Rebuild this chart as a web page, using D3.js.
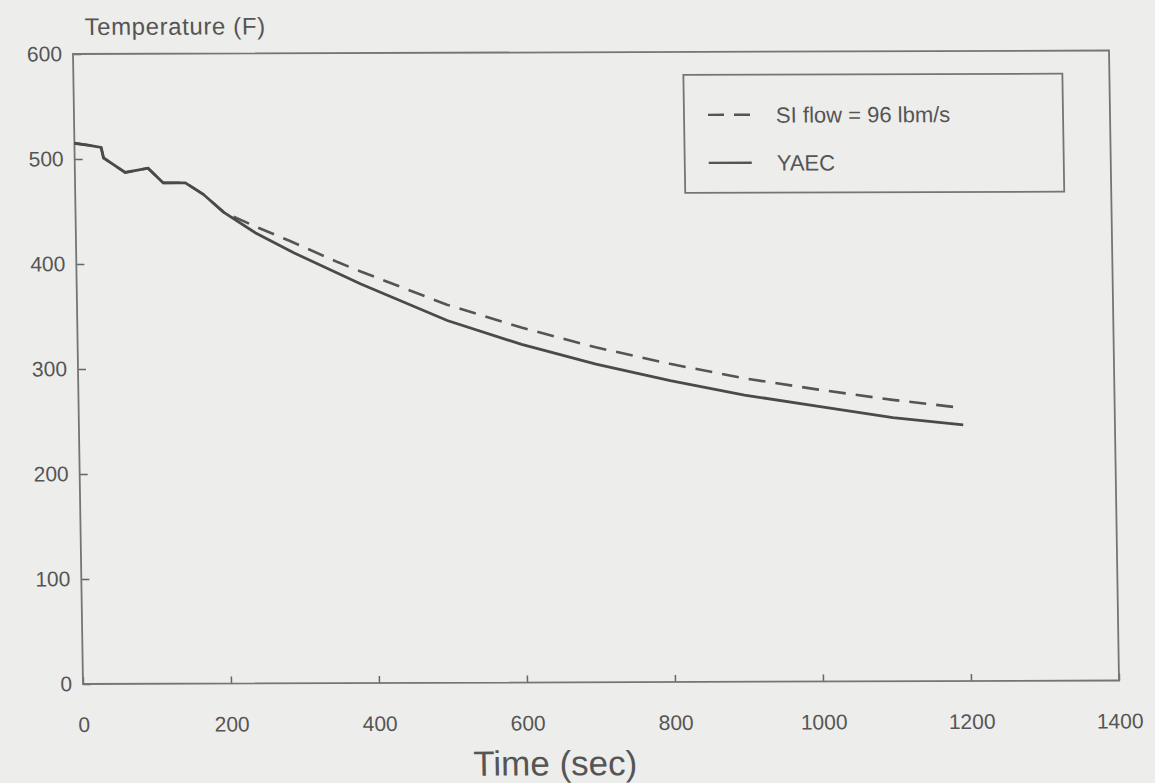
<!DOCTYPE html>
<html>
<head>
<meta charset="utf-8">
<style>
  body { margin: 0; background: #ededeb; }
  svg { display: block; }
  text { font-family: "Liberation Sans", Arial, sans-serif; fill: #555; }
</style>
</head>
<body>
<div id="chart"></div>
<script src="https://d3js.org/d3.v7.min.js"></script>
<script>
// YAEC (solid)
const yaecTime = [0, 20, 36, 39, 68, 99, 119, 149, 173, 200, 243, 294, 384, 500, 600, 700, 800, 900, 1000, 1100, 1195];
const yaecTemp = [515, 513, 511, 501, 487, 491, 477, 477, 466, 449, 429, 410, 380, 345, 322, 303, 287, 273, 262, 251, 244];

// SI flow = 96 lbm/s (dashed)
const siTime = [0, 20, 36, 39, 68, 99, 119, 149, 173, 200, 243, 290, 353, 384, 500, 600, 700, 800, 900, 1000, 1100, 1195];
const siTemp = [515, 513, 511, 501, 487, 491, 477, 477, 466, 449, 435, 421, 401, 392, 360, 338, 319, 303, 289, 278, 268, 260];

const xTicks = [0, 200, 400, 600, 800, 1000, 1200, 1400];
const yTicks = [0, 100, 200, 300, 400, 500, 600];
const legendLabels = ["SI flow = 96 lbm/s", "YAEC"];

const width = 1155, height = 783;
const W = 1036, H = 630;

const svg = d3.select("#chart").append("svg")
  .attr("width", width)
  .attr("height", height);

// the scanned page is slightly skewed
const g = svg.append("g")
  .attr("transform", `matrix(1, ${-3.5 / W}, ${10 / H}, 1, 73, 54)`);

const x = d3.scaleLinear().domain([0, 1400]).range([0, W]);
const y = d3.scaleLinear().domain([0, 600]).range([H, 0]);

// axes
const yAxis = g.append("g")
  .call(d3.axisLeft(y).tickValues(yTicks).tickFormat(d3.format("d"))
    .tickSizeInner(-8).tickSizeOuter(0).tickPadding(11));
const xAxis = g.append("g")
  .attr("transform", `translate(0,${H})`)
  .call(d3.axisBottom(x).tickValues(xTicks).tickFormat(d3.format("d"))
    .tickSizeInner(-7).tickSizeOuter(0).tickPadding(33));

[xAxis, yAxis].forEach(a => {
  a.select(".domain").remove();
  a.selectAll("line").attr("stroke", "#666").attr("stroke-width", 1.5);
  a.selectAll("text").attr("font-size", 21).attr("fill", "#555");
});

// frame
g.append("rect")
  .attr("x", 0).attr("y", 0)
  .attr("width", W).attr("height", H)
  .attr("fill", "none")
  .attr("stroke", "#757575")
  .attr("stroke-width", 1.8);

// titles
g.append("text")
  .attr("x", 12).attr("y", -19)
  .attr("font-size", 24)
  .attr("letter-spacing", 0.6)
  .text("Temperature (F)");

g.append("text")
  .attr("x", 471).attr("y", H + 93)
  .attr("text-anchor", "middle")
  .attr("font-size", 35)
  .text("Time (sec)");

// lines
const line = d3.line()
  .x(d => x(d[0]))
  .y(d => y(d[1]));

g.append("path")
  .datum(siTime.map((t, i) => [t, siTemp[i]]))
  .attr("fill", "none")
  .attr("stroke", "#555")
  .attr("stroke-width", 2.6)
  .attr("stroke-dasharray", "17,10")
  .attr("d", line);

g.append("path")
  .datum(yaecTime.map((t, i) => [t, yaecTemp[i]]))
  .attr("fill", "none")
  .attr("stroke", "#4a4a4a")
  .attr("stroke-width", 2.8)
  .attr("d", line);

// legend
const legend = g.append("g").attr("transform", "translate(610,23)");
legend.append("rect")
  .attr("width", 379).attr("height", 118)
  .attr("fill", "none")
  .attr("stroke", "#757575")
  .attr("stroke-width", 1.8);

legendLabels.forEach((lab, i) => {
  const ly = 40 + i * 48;
  legend.append("line")
    .attr("x1", 24).attr("x2", 67)
    .attr("y1", ly).attr("y2", ly)
    .attr("stroke", "#555")
    .attr("stroke-width", 2.4)
    .attr("stroke-dasharray", i === 0 ? "16,10" : null);
  legend.append("text")
    .attr("x", 92).attr("y", ly + 8)
    .attr("font-size", 22)
    .text(lab);
});
</script>
</body>
</html>
